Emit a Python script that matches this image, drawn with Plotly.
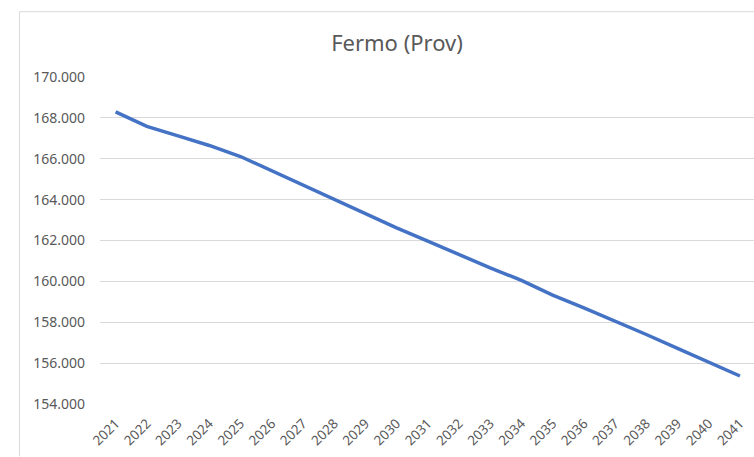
import plotly.graph_objects as go

years = [str(y) for y in range(2021, 2042)]
population = [168290, 167580, 167120, 166650, 166110, 165410, 164720, 164030,
              163320, 162620, 161970, 161300, 160660, 160050, 159330, 158700,
              158070, 157400, 156720, 156050, 155370]
y_ticks = [154000, 156000, 158000, 160000, 162000, 164000, 166000, 168000, 170000]

W, H = 754, 457
L, R, T, B = 100.4, 0, 76.5, 52.5
pw = W - L - R
ph = H - T - B

fig = go.Figure()
fig.add_trace(go.Scatter(
    x=list(range(len(years))), y=population, mode="lines",
    line=dict(color="#4472C4", width=3.5), showlegend=False,
))

bx, by = 20, 11
fig.update_layout(
    width=W, height=H,
    margin=dict(l=L, r=R, t=T, b=B, autoexpand=False),
    paper_bgcolor="white", plot_bgcolor="white",
    separators=",.",
    title=dict(text="Fermo (Prov)", x=397 / W, xanchor="center", y=1 - 43 / H,
               yanchor="middle",
               font=dict(family="Noto Sans", size=22, color="#595959")),
    xaxis=dict(
        range=[-0.5, 20.45], tickmode="array", tickvals=list(range(len(years))), ticktext=years,
        tickangle=-45, showgrid=False, zeroline=False, showline=False, ticks="",
        automargin=False, ticklabelstandoff=8,
        tickfont=dict(family="Noto Sans", size=13.5, color="#595959"),
    ),
    yaxis=dict(
        range=[154000, 170000], tickmode="array", tickvals=y_ticks,
        tickformat=",d", showgrid=True, gridcolor="#D9D9D9", gridwidth=1,
        zeroline=False, showline=False, ticks="", ticklen=0,
        automargin=False, ticklabelstandoff=14,
        tickfont=dict(family="Noto Sans", size=14, color="#595959"),
    ),
    shapes=[
        dict(type="line", xref="paper", yref="paper",
             x0=(bx - L) / pw, x1=(bx - L) / pw, y0=1 + (T - by) / ph, y1=-B / ph,
             line=dict(color="#D9D9D9", width=1)),
        dict(type="line", xref="paper", yref="paper",
             x0=(bx - L) / pw, x1=1.0, y0=1 + (T - by) / ph, y1=1 + (T - by) / ph,
             line=dict(color="#D9D9D9", width=1)),
    ],
)

fig.write_html("out.html", config={"displayModeBar": False},
               post_script="document.body.style.margin='0';document.body.style.overflow='hidden';")
